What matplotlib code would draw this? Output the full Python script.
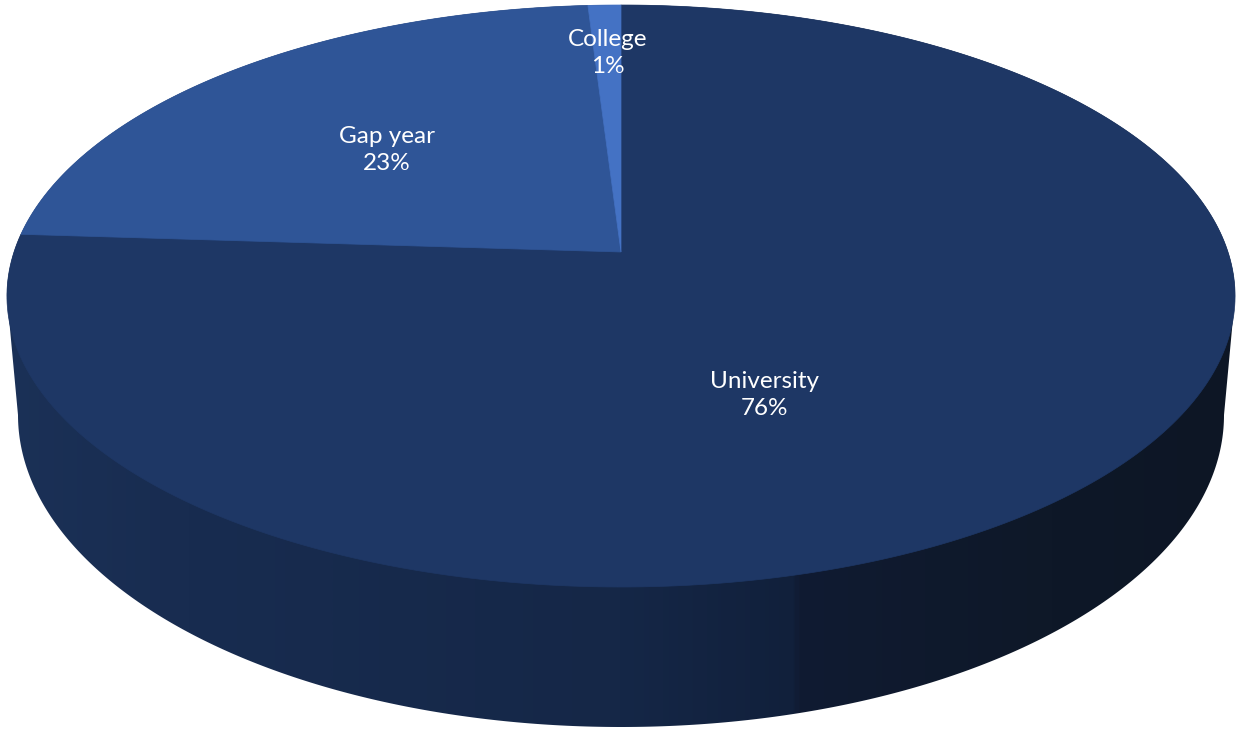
import matplotlib
matplotlib.use("Agg")
from matplotlib import pyplot as plt
from matplotlib.patches import Polygon
from matplotlib.colors import LinearSegmentedColormap
import numpy as np

categories = ["University", "Gap year", "College"]
shares = [76, 23, 1]
colors = ["#1e3765", "#2f5597", "#4472c4"]
label_x = [765, 387, 608]
label_y = [395, 150, 53]

W, H = 1240, 729
cx = 621
# the top is a circle seen in perspective, so its centre is not the ellipse centre
top_y, mid_y, bottom_y = 5, 252, 587
persp = (2 * mid_y - top_y - bottom_y) / (top_y - bottom_y)
half_w = 607
# lower rim of the side wall
rim_cy, rim_rx, rim_ry = 415, 603, 312

fig = plt.figure(figsize=(W / 100, H / 100), dpi=100)
ax = fig.add_axes([0, 0, 1, 1])
ax.set_xlim(0, W)
ax.set_ylim(H, 0)
ax.axis("off")


def disc(a):
    # angle clockwise from 12 o'clock, projected on the screen
    u, v = np.sin(a), np.cos(a)
    slope = top_y * (1 + persp) - mid_y
    return cx + half_w * u / (1 + persp * v), (slope * v + mid_y) / (1 + persp * v)


# side wall outline: top from its widest point round the back, then lower half of the rim
widest = np.arccos(-persp)
t = np.linspace(-widest, widest, 300)
up_x, up_y = disc(t)
b = np.linspace(0, np.pi, 300)
low_x = cx + rim_rx * np.cos(b)
low_y = rim_cy + rim_ry * np.sin(b)
outline = list(zip(up_x, up_y)) + list(zip(low_x, low_y))

wall_cmap = LinearSegmentedColormap.from_list("wall", [
    (0.0, "#1b3157"), (0.15, "#182c50"), (0.50, "#152747"),
    (0.64, "#11203b"), (0.645, "#101b32"), (0.85, "#0e1828"), (1.0, "#0d1625"),
])
wall = ax.imshow(np.linspace(0, 1, 512)[None, :], cmap=wall_cmap, aspect="auto",
                 extent=(0, W, H, 0), zorder=1)
clip = Polygon(outline, closed=True, transform=ax.transData, facecolor="none", edgecolor="none")
ax.add_patch(clip)
wall.set_clip_path(clip)

# top of the pie, University starts at 12 o'clock
start = 0.0
total = sum(shares)
for name, share, col, lx, ly in zip(categories, shares, colors, label_x, label_y):
    sweep = 2 * np.pi * share / total
    x, y = disc(np.linspace(start, start + sweep, 300))
    pts = [(cx, mid_y)] + list(zip(x, y))
    ax.add_patch(Polygon(pts, closed=True, facecolor=col, edgecolor=col, linewidth=0.5, zorder=2))
    ax.text(lx, ly, f"{name}\n{share}%", color="white", fontsize=17.5, ha="center", va="center",
            family="Lato", linespacing=1.33, zorder=3)
    start += sweep

fig.savefig("out.png", dpi=100, facecolor="white")
